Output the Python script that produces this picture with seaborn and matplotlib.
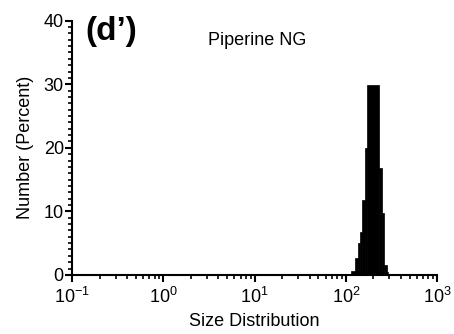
import numpy as np
import matplotlib
matplotlib.use("Agg")
import matplotlib.pyplot as plt
import seaborn as sns
from matplotlib.ticker import MultipleLocator, LogLocator, NullFormatter

bin_edges = [115, 125, 134, 142, 151, 161, 171, 231, 246, 261, 279, 286]
percent = [0.6, 2.6, 5.0, 6.8, 11.8, 19.9, 29.9, 16.8, 9.7, 1.6, 0.5]
x_ticks = [0.1, 1, 10, 100, 1000]
y_ticks = [0, 10, 20, 30, 40]

sns.set_style("ticks")
plt.rcParams["font.family"] = ["Liberation Sans", "DejaVu Sans"]
plt.rcParams["mathtext.default"] = "regular"
for key in ["text.color", "axes.labelcolor", "xtick.color", "ytick.color"]:
    plt.rcParams[key] = "black"

edges = np.array(bin_edges, dtype=float)
centers = np.sqrt(edges[:-1] * edges[1:])

fig = plt.figure(figsize=(4.54, 3.34), dpi=100)
ax = fig.add_axes([0.159, 0.177, 0.804, 0.761])

# seaborn bins in log10 units when log_scale=True; pass a list (not array)
sns.histplot(x=centers, weights=percent, bins=list(np.log10(edges)), log_scale=True,
             color="black", edgecolor="black", linewidth=0.5, alpha=1, ax=ax)

ax.set_xlim(0.1, 1000)
ax.set_ylim(0, 40)
ax.set_xticks(x_ticks)
ax.xaxis.set_minor_locator(LogLocator(base=10, subs=np.arange(2, 10)))
ax.xaxis.set_minor_formatter(NullFormatter())
ax.set_yticks(y_ticks)
ax.yaxis.set_minor_locator(MultipleLocator(1))

for s in ["top", "right"]:
    ax.spines[s].set_visible(False)
for s in ["left", "bottom"]:
    ax.spines[s].set_linewidth(1.5)
    ax.spines[s].set_color("black")
ax.tick_params(which="major", length=5, width=1.5, color="black", labelsize=13)
ax.tick_params(axis="x", which="major", pad=4)
ax.tick_params(axis="y", which="major", pad=1)
ax.tick_params(which="minor", length=3, width=1.2, color="black")

ax.set_xlabel("Size Distribution", fontsize=13, labelpad=4)
ax.set_ylabel("Number (Percent)", fontsize=13, labelpad=7)
ax.text(0.507, 0.924, "Piperine NG", transform=ax.transAxes, ha="center",
        va="center", fontsize=13)
fig.text(0.189, 0.905, "(d\u2019)", fontsize=24, fontweight="bold",
         ha="left", va="center")

fig.savefig("out.png", dpi=100)
